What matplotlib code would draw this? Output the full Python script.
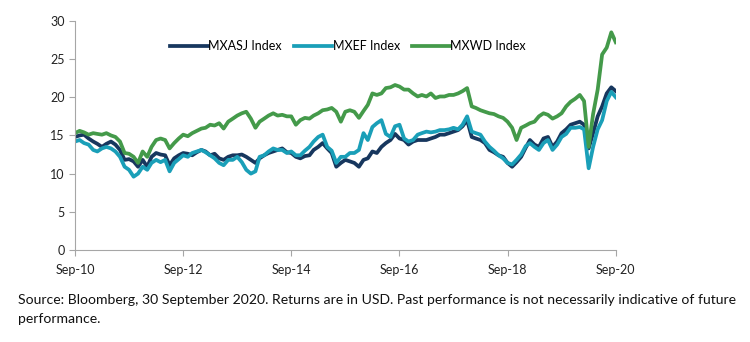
import matplotlib.pyplot as plt
import matplotlib.dates as mdates
import pandas as pd

# monthly points, Sep 2010 .. Sep 2020
mxasj = [14.8, 15.0, 15.1, 14.6, 14.2, 13.9, 13.5, 13.9, 14.2, 13.8,
         13.1, 11.8, 11.9, 11.6, 10.9, 11.8, 10.9, 12.2, 12.7, 12.5,
         12.4, 11.1, 12.0, 12.4, 12.7, 12.6, 12.4, 12.8, 13.1, 12.9,
         12.4, 12.6, 12.0, 11.8, 12.2, 12.4, 12.4, 12.5, 12.2, 11.8,
         11.4, 12.0, 12.4, 12.7, 12.9, 13.1, 13.3, 12.8, 12.7, 12.2,
         12.0, 12.3, 12.4, 13.1, 13.5, 14.0, 13.3, 12.7, 10.9, 11.4,
         11.8, 11.6, 11.4, 10.9, 11.8, 12.0, 12.9, 12.7, 13.5, 14.0,
         14.4, 15.2, 14.6, 14.4, 13.8, 14.2, 14.4, 14.4, 14.4, 14.6,
         14.8, 15.1, 15.1, 15.3, 15.5, 15.7, 16.2, 17.0, 14.8, 14.6,
         14.4, 14.0, 13.1, 12.8, 12.4, 12.2, 11.4, 10.9, 11.5, 12.2,
         13.4, 14.4, 13.8, 13.5, 14.6, 14.8, 13.5, 14.2, 15.3, 15.8,
         16.4, 16.6, 16.8, 16.4, 13.3, 15.3, 17.5, 18.8, 20.5, 21.3,
         20.8]

mxef = [14.2, 14.4, 14.0, 13.8, 13.1, 12.9, 13.3, 13.5, 13.3, 12.9,
        12.2, 10.9, 10.5, 9.6, 10.0, 10.9, 10.5, 11.4, 11.8, 11.5,
        11.8, 10.3, 11.4, 11.9, 12.4, 12.2, 12.7, 12.9, 13.1, 12.8,
        12.4, 12.0, 11.4, 11.1, 11.8, 11.8, 12.2, 11.5, 10.5, 10.0,
        10.3, 12.2, 12.4, 12.9, 13.3, 13.1, 13.1, 12.7, 12.9, 12.4,
        12.4, 13.0, 13.5, 14.2, 14.8, 15.1, 13.5, 13.0, 11.4, 12.2,
        12.2, 12.7, 12.7, 13.1, 15.3, 14.4, 16.1, 16.6, 17.0, 15.2,
        14.8, 16.2, 16.4, 14.6, 14.2, 14.4, 15.1, 15.3, 15.5, 15.4,
        15.5, 15.7, 15.7, 15.8, 16.0, 15.8, 16.4, 17.5, 15.5, 15.3,
        15.1, 14.2, 13.5, 13.0, 12.4, 12.0, 11.4, 11.2, 11.8, 12.5,
        13.6, 14.0, 13.5, 13.1, 14.0, 14.4, 13.1, 13.8, 14.8, 15.2,
        16.0, 16.0, 16.1, 15.8, 10.7, 13.5, 15.8, 17.0, 19.5, 20.7,
        20.0]

mxwd = [15.3, 15.6, 15.4, 15.1, 15.3, 15.2, 15.1, 15.3, 15.0, 14.8,
        14.2, 12.7, 12.6, 12.2, 11.4, 12.9, 12.2, 13.5, 14.4, 14.6,
        14.4, 13.3, 14.0, 14.6, 15.1, 14.9, 15.3, 15.6, 15.9, 16.0,
        16.4, 16.3, 16.6, 15.9, 16.8, 17.2, 17.6, 17.9, 18.1, 17.2,
        16.0, 16.8, 17.2, 17.6, 17.9, 17.6, 17.7, 17.5, 17.5, 16.4,
        17.0, 17.3, 17.2, 17.6, 17.9, 18.3, 18.4, 18.6, 18.1, 16.8,
        18.1, 18.3, 18.1, 17.3, 18.2, 19.0, 20.5, 20.3, 20.5, 21.2,
        21.3, 21.6, 21.4, 21.0, 21.0, 20.5, 20.1, 20.3, 20.1, 20.5,
        19.9, 20.1, 20.1, 20.3, 20.3, 20.5, 20.8, 21.2, 18.8, 18.6,
        18.3, 18.1, 17.9, 17.8, 17.5, 17.3, 16.8, 16.0, 14.4, 16.0,
        16.3, 16.6, 16.8, 17.5, 17.9, 17.7, 17.2, 17.5, 17.9, 18.8,
        19.4, 19.8, 20.3, 19.5, 13.5, 17.8, 21.0, 25.6, 26.5, 28.5,
        27.2]

series_names = ['MXASJ Index', 'MXEF Index', 'MXWD Index']
series_colors = ['#17375e', '#1a9fb8', '#449a4a']
yticks = [0, 5, 10, 15, 20, 25, 30]
source_note = ('Source: Bloomberg, 30 September 2020. Returns are in USD. '
               'Past performance is not necessarily indicative of future\nperformance.')

plt.rcParams['font.family'] = ['Lato', 'DejaVu Sans']

dates = pd.date_range('2010-09-30', periods=len(mxwd), freq='ME')

fig = plt.figure(figsize=(7.5, 3.42), dpi=100)
ax = fig.add_axes([0.1, 0.269, 0.721, 0.67])

for vals, name, col in zip([mxasj, mxef, mxwd], series_names, series_colors):
    ax.plot(dates, vals, color=col, lw=2.7, label=name)

ax.set_xlim(dates[0], dates[-1])
ax.set_ylim(0, 30)
ax.set_yticks(yticks)
ax.xaxis.set_major_locator(mdates.MonthLocator(bymonth=9, interval=24, bymonthday=30))
ax.xaxis.set_major_formatter(mdates.DateFormatter('%b-%y'))

for side in ['top', 'right']:
    ax.spines[side].set_visible(False)
for side in ['left', 'bottom']:
    ax.spines[side].set_color('#a6a6a6')
ax.tick_params(axis='both', colors='#a6a6a6', labelcolor='#222222', labelsize=9, length=4)
ax.tick_params(axis='x', pad=6)

ax.legend(loc='center', bbox_to_anchor=(0.505, 0.89), ncol=3, frameon=False,
          fontsize=9, handlelength=3.0, handletextpad=0.05, columnspacing=1.0)

fig.text(0.024, 0.095, source_note, fontsize=10.1, color='#111111', va='center', linespacing=1.72)

fig.savefig('out.png', dpi=100)
